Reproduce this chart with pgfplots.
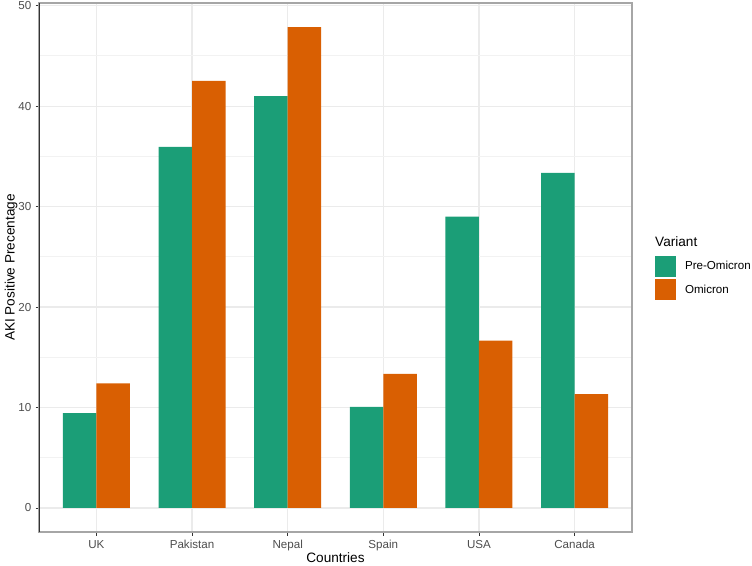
\documentclass[border=0pt]{standalone}
\usepackage{pgfplots}
\pgfplotsset{compat=1.18}
\usepackage{fontspec}
\setmainfont{Liberation Sans}

\definecolor{preomi}{HTML}{1B9E77}
\definecolor{omi}{HTML}{D95F02}
\definecolor{gridmaj}{HTML}{EBEBEB}
\definecolor{gridmin}{HTML}{F2F2F2}
\definecolor{tickc}{HTML}{4D4D4D}
\definecolor{axisc}{HTML}{333333}
\definecolor{borderc}{HTML}{A6A6A6}

\newcommand{\ticksize}{\fontsize{11.6bp}{13.6bp}\selectfont}
\newcommand{\titlesize}{\fontsize{13.6bp}{16bp}\selectfont}

\begin{document}
\begin{tikzpicture}
\useasboundingbox (0,0) rectangle (752bp,566bp);
\begin{axis}[
  at={(39bp,34bp)}, anchor=south west,
  scale only axis, width=593bp, height=529bp,
  xmin=0.4, xmax=6.6, ymin=-2.39, ymax=50.26,
  xtick={1,2,3,4,5,6},
  xticklabels={UK,Pakistan,Nepal,Spain,USA,Canada},
  ytick={0,10,20,30,40,50},
  minor ytick={5,15,25,35,45},
  xmajorgrids, ymajorgrids, yminorgrids,
  major grid style={color=gridmaj, line width=1.1bp},
  minor grid style={color=gridmin, line width=0.7bp},
  tick pos=left, tick align=outside,
  major tick length=3.5bp, minor tick length=0pt,
  tick style={color=axisc, line width=0.8bp},
  axis line style={color=borderc, line width=1.1bp},
  ticklabel style={font=\ticksize, color=tickc, inner sep=0pt},
  /pgf/number format/assume math mode=true,
  xticklabel style={anchor=base, yshift=-12.5bp},
  yticklabel style={anchor=east, xshift=-4bp},
  xlabel={Countries},
  ylabel={AKI Positive Precentage},
  label style={font=\titlesize, color=black},
  xlabel style={at={(axis description cs:0.5,-0.058)}, anchor=base},
  ylabel style={at={(axis description cs:-0.0413,0.5)}, anchor=base},
  ybar, bar width=0.35,
  legend style={
    at={(axis description cs:1.0388,0.5217)}, anchor=north west,
    draw=none, fill=none, inner sep=0pt, outer sep=0pt,
    row sep=2.3bp, font=\ticksize,
    nodes={inner sep=0pt, anchor=west},
    /tikz/every odd column/.append style={column sep=9bp}},
  legend cell align=left,
  legend image code/.code={\fill[#1] (0bp,-10.5bp) rectangle (21bp,10.5bp);},
]
% Pre-Omicron share of AKI-positive cases by country
\addplot[draw=none, fill=preomi, bar shift=-0.175] coordinates {
  (1,9.44) (2,35.94) (3,41.0) (4,10.07) (5,28.99) (6,33.36)};
\addlegendentry{Pre-Omicron}
% Omicron share of AKI-positive cases by country
\addplot[draw=none, fill=omi, bar shift=0.175] coordinates {
  (1,12.39) (2,42.5) (3,47.87) (4,13.35) (5,16.66) (6,11.33)};
\addlegendentry{Omicron}
% darker axis lines on the left and bottom of the panel
\draw[color=axisc, line width=0.8bp]
  (rel axis cs:0,1) -- (rel axis cs:0,0) -- (rel axis cs:1,0);
\end{axis}
% legend title
\node[anchor=base west, font=\titlesize, inner sep=0pt] at (655bp,319.3bp) {Variant};
\end{tikzpicture}
\end{document}
